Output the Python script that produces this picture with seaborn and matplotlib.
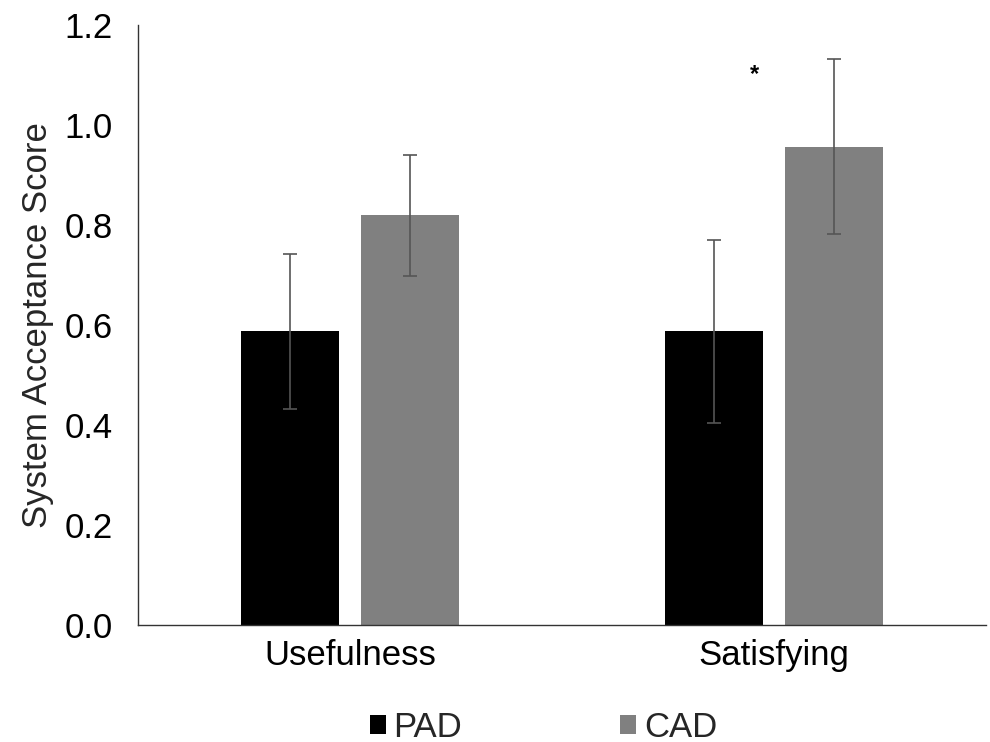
import matplotlib
matplotlib.use("Agg")
import matplotlib.pyplot as plt
import seaborn as sns
import pandas as pd
import numpy as np
from matplotlib.patches import Patch

# Mean acceptance scores and error half-widths per measure and condition
categories = ["Usefulness", "Satisfying"]
groups = ["PAD", "CAD"]
pad_means = [0.587, 0.587]
cad_means = [0.819, 0.957]
pad_err = [0.155, 0.183]
cad_err = [0.121, 0.176]
y_ticks = [0.0, 0.2, 0.4, 0.6, 0.8, 1.0, 1.2]
colors = {"PAD": "#000000", "CAD": "#808080"}

sns.set_theme(style="white")
plt.rcParams["font.family"] = ["Liberation Sans", "DejaVu Sans"]

df = pd.DataFrame({
    "measure": categories * 2,
    "group": ["PAD"] * 2 + ["CAD"] * 2,
    "score": pad_means + cad_means,
    "err": pad_err + cad_err,
})

fig = plt.figure(figsize=(9.9, 7.42), dpi=100)
ax = fig.add_axes([0.1394, 0.1577, 0.8566, 0.8086])

sns.barplot(data=df, x="measure", y="score", hue="group", order=categories,
            hue_order=groups, palette=colors, width=0.568, gap=0.19,
            errorbar=None, legend=False, ax=ax, saturation=1, linewidth=0)

# Error bars placed at each bar's centre
for container, g in zip(ax.containers, groups):
    sub = df[df["group"] == g].set_index("measure").loc[categories]
    xs = [p.get_x() + p.get_width() / 2 for p in container.patches]
    ax.errorbar(xs, sub["score"].values, yerr=sub["err"].values, fmt="none",
                ecolor="#555555", elinewidth=1.2, capsize=5, capthick=1.2)

# Significance marker
ax.text(1 - 0.047, 1.1, "*", ha="center", va="center", fontsize=17,
        fontweight="bold", color="black")

ax.set_xlim(-0.5, 1.5)
ax.set_ylim(0, 1.2)
ax.set_yticks(y_ticks)
ax.set_yticklabels([f"{t:.1f}" for t in y_ticks])
ax.tick_params(axis="both", length=0, labelsize=25, colors="black")
ax.tick_params(axis="y", pad=18)
ax.tick_params(axis="x", pad=10)
ax.set_xlabel("")
ax.set_ylabel("System Acceptance Score", fontsize=25, labelpad=8)

for side in ["top", "right"]:
    ax.spines[side].set_visible(False)
for side in ["left", "bottom"]:
    ax.spines[side].set_color("#333333")
    ax.spines[side].set_linewidth(1.0)

handles = [Patch(facecolor=colors[g], edgecolor="none") for g in groups]
fig.legend(handles, groups, loc="center", bbox_to_anchor=(0.549, 0.02),
           ncol=2, frameon=False, fontsize=25, handlelength=0.46,
           handleheight=0.46, handletextpad=0.23, columnspacing=4.55)

fig.savefig("out.png", dpi=100)
